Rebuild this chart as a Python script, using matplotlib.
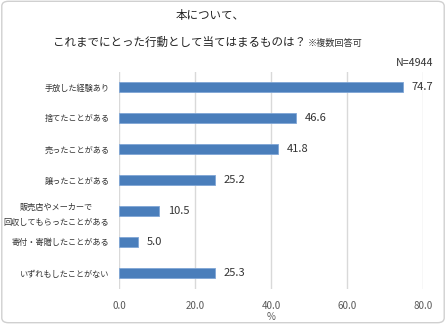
import matplotlib
matplotlib.use("Agg")
import matplotlib.pyplot as plt
from matplotlib.patches import FancyBboxPatch

plt.rcParams['font.family'] = ['Noto Sans CJK JP', 'DejaVu Sans']

categories = ["手放した経験あり", "捨てたことがある", "売ったことがある", "譲ったことがある",
              "販売店やメーカーで\n回収してもらったことがある", "寄付・寄贈したことがある",
              "いずれもしたことがない"]
values = [74.7, 46.6, 41.8, 25.2, 10.5, 5.0, 25.3]
xticks = [0, 20, 40, 60, 80]

fig = plt.figure(figsize=(4.46, 3.24), dpi=100)
fig.patches.append(FancyBboxPatch((0.004, 0.004), 0.992, 0.992,
                                  boxstyle="round,pad=0,rounding_size=0.015",
                                  transform=fig.transFigure, fc="none",
                                  ec="#d0d0d0", lw=1, zorder=-1))
ax = fig.add_axes([119/446, 1 - 288.5/324, 304/446, 217/324])
ax.patch.set_alpha(0)

ypos = list(range(len(categories)))
ax.barh(ypos, values, height=0.33, color="#4a7ebb", edgecolor="#7fa6d6", lw=0.6, zorder=3)
for y, v in zip(ypos, values):
    ax.text(v + 2.3, y, f"{v:.1f}", va="center", ha="left", fontsize=8, color="#333333")

ax.set_ylim(len(categories) - 0.5, -0.5)
ax.set_xlim(0, 80)
ax.set_yticks(ypos)
ax.set_yticklabels(categories, fontsize=5.9, color="#333333", linespacing=1.85,
                   multialignment="center")
ax.set_xticks(xticks)
ax.set_xticklabels([f"{t:.1f}" for t in xticks], fontsize=7, color="#595959")
ax.tick_params(axis="y", length=0, pad=7)
ax.tick_params(axis="x", length=0, pad=9)
ax.grid(axis="x", color="#d9d9d9", lw=1, zorder=0)
for s in ax.spines.values():
    s.set_visible(False)
ax.set_xlabel("%", fontsize=7, color="#595959", labelpad=1)

fig.text(210/446, 1 - 16/324, "本について、", ha="center", va="center", fontsize=8.3, color="#222222")
fig.text(306/446, 1 - 42/324, "これまでにとった行動として当てはまるものは？", ha="right", va="center",
         fontsize=8.3, color="#222222")
fig.text(308/446, 1 - 43/324, "※複数回答可", ha="left", va="center", fontsize=6.6, color="#333333")
fig.text(433/446, 1 - 63/324, "N=4944", ha="right", va="center", fontsize=7.6, color="#333333")

fig.savefig("out.png", dpi=100)
